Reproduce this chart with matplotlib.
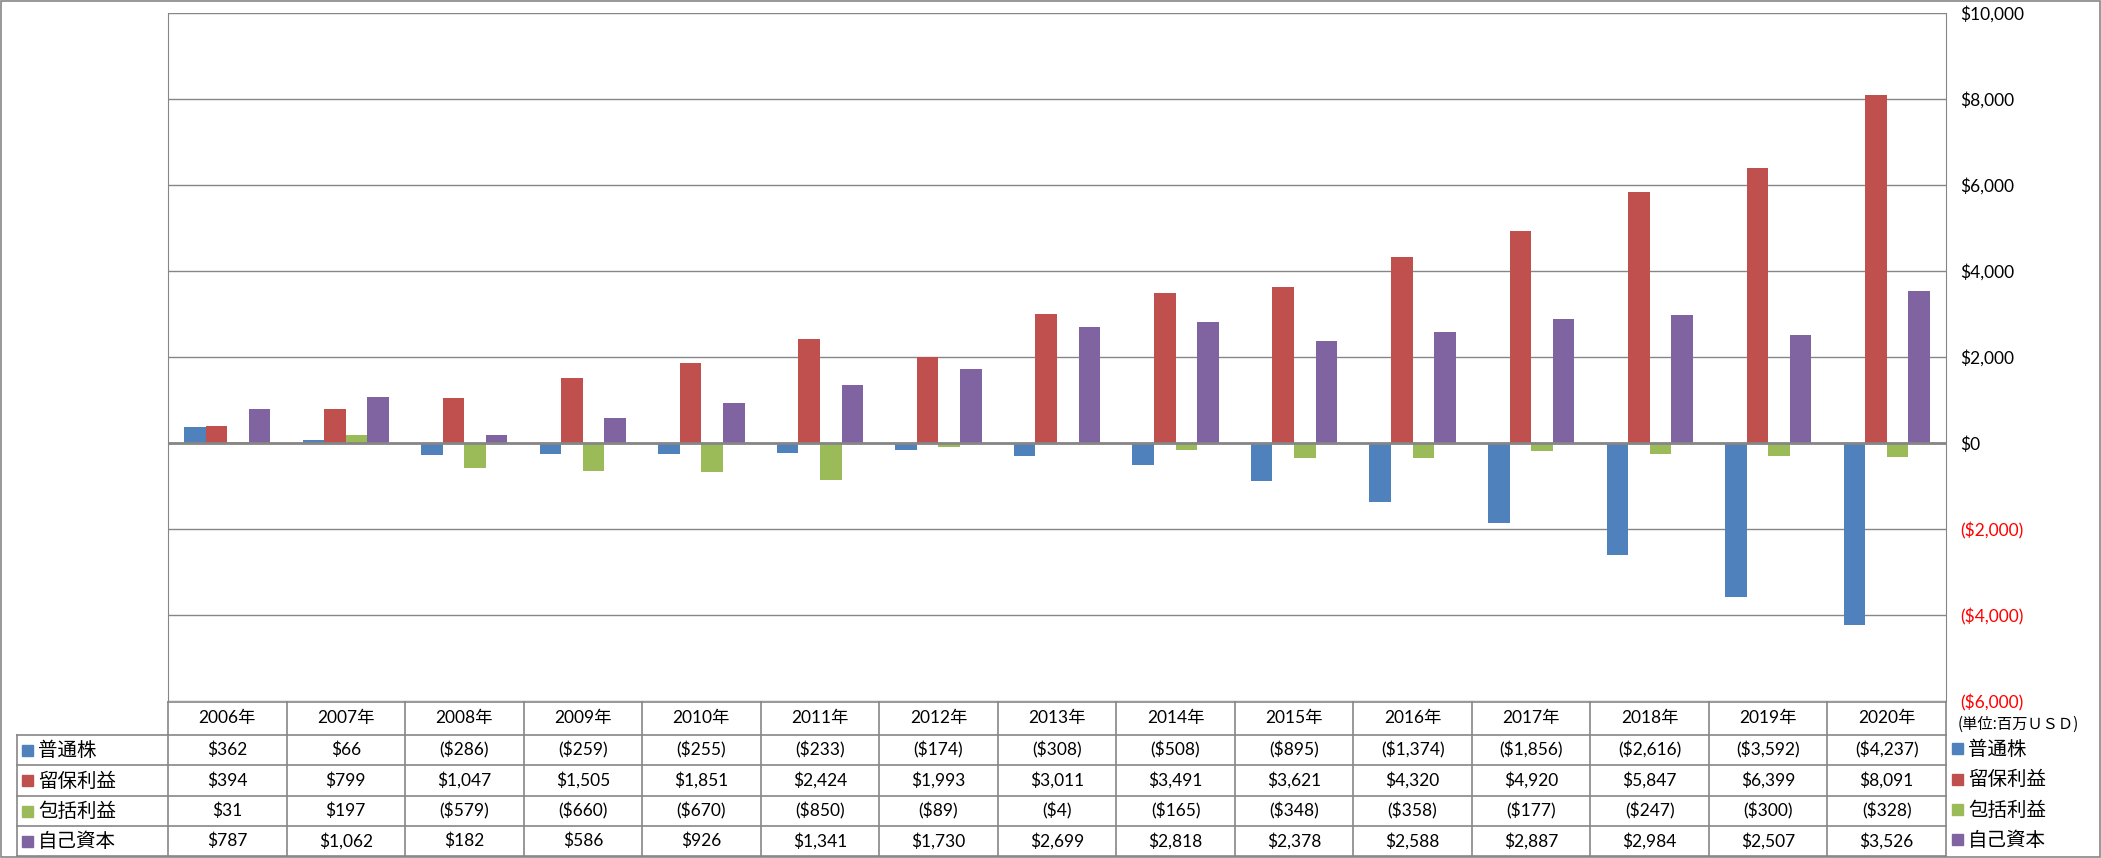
import matplotlib.pyplot as plt
import numpy as np
from matplotlib.patches import Rectangle

plt.rcParams['font.family'] = ['Lato', 'Noto Sans CJK JP', 'DejaVu Sans']

# data (millions USD)
years = ['2006年', '2007年', '2008年', '2009年', '2010年', '2011年', '2012年', '2013年',
         '2014年', '2015年', '2016年', '2017年', '2018年', '2019年', '2020年']
common_stock = [362, 66, -286, -259, -255, -233, -174, -308, -508, -895, -1374, -1856, -2616, -3592, -4237]
retained = [394, 799, 1047, 1505, 1851, 2424, 1993, 3011, 3491, 3621, 4320, 4920, 5847, 6399, 8091]
comprehensive = [31, 197, -579, -660, -670, -850, -89, -4, -165, -348, -358, -177, -247, -300, -328]
equity = [787, 1062, 182, 586, 926, 1341, 1730, 2699, 2818, 2378, 2588, 2887, 2984, 2507, 3526]

series_names = ['普通株', '留保利益', '包括利益', '自己資本']
series_vals = [common_stock, retained, comprehensive, equity]
colors = ['#4F81BD', '#C0504D', '#9BBB59', '#8064A2']

W, H = 2101, 858
fig = plt.figure(figsize=(W / 100, H / 100), dpi=100)

# plot area in pixels
px_l, px_r, px_t, px_b = 168, 1946, 13, 701
ax = fig.add_axes([px_l / W, 1 - px_b / H, (px_r - px_l) / W, (px_b - px_t) / H])

n = len(years)
x = np.arange(n)
bw = 0.182
for i, (vals, c) in enumerate(zip(series_vals, colors)):
    ax.bar(x + (i - 1.5) * bw, vals, width=bw, color=c, zorder=3)

ax.set_xlim(-0.5, n - 0.5)
ax.set_ylim(-6000, 10000)
ax.set_yticks(np.arange(-6000, 10001, 2000))
ax.yaxis.tick_right()
ax.tick_params(axis='y', length=0, pad=10, labelsize=12.5)
ax.set_xticks([])
ax.grid(axis='y', color='#868686', linewidth=1, zorder=0)
ax.axhline(0, color='#868686', linewidth=2, zorder=4)
for s in ['top', 'bottom']:
    ax.spines[s].set_visible(False)
for s in ['left', 'right']:
    ax.spines[s].set_color('#868686')


def money(v):
    s = '${:,}'.format(abs(v))
    return '(' + s + ')' if v < 0 else s


ticklabels = []
for t in ax.get_yticks():
    ticklabels.append(money(int(t)))
ax.set_yticklabels(ticklabels)
for lab, t in zip(ax.get_yticklabels(), ax.get_yticks()):
    if t < 0:
        lab.set_color('#FF0000')

# overlay for data table, legend and border (pixel coordinates)
ov = fig.add_axes([0, 0, 1, 1])
ov.set_xlim(0, W)
ov.set_ylim(H, 0)
ov.axis('off')

lc = '#868686'
ov.add_patch(Rectangle((0.5, 0.5), W - 1.5, H - 1.5, fill=False, edgecolor=lc, linewidth=1.2))

col_w = (px_r - px_l) / n
rows_y = [702, 735, 765, 796, 826, 856]
ov.plot([px_l, px_r], [rows_y[0], rows_y[0]], color=lc, lw=1.2)
for yy in rows_y[1:]:
    ov.plot([17, px_r], [yy, yy], color=lc, lw=1.2)
for j in range(n + 1):
    xx = px_l + j * col_w
    ov.plot([xx, xx], [rows_y[0], rows_y[-1]], color=lc, lw=1.2)
ov.plot([17, 17], [rows_y[1], rows_y[-1]], color=lc, lw=1.2)

for j, yr in enumerate(years):
    ov.text(px_l + (j + 0.5) * col_w, (rows_y[0] + rows_y[1]) / 2, yr,
            ha='center', va='center', fontsize=12.5)

for i, (name, vals, c) in enumerate(zip(series_names, series_vals, colors)):
    yc = (rows_y[i + 1] + rows_y[i + 2]) / 2
    ov.add_patch(Rectangle((22, yc - 5.5), 11, 11, color=c))
    ov.text(38, yc, name, ha='left', va='center', fontsize=14)
    for j, v in enumerate(vals):
        ov.text(px_l + (j + 0.5) * col_w, yc, money(v), ha='center', va='center', fontsize=12.5)
    # right-side legend
    ly = yc - 1.5
    ov.add_patch(Rectangle((1952, ly - 5.5), 11, 11, color=c))
    ov.text(1968, ly, name, ha='left', va='center', fontsize=14)

ov.text(1958, 724, '(単位:百万ＵＳＤ)', ha='left', va='center', fontsize=11,
        family=['Noto Sans CJK JP'])

fig.savefig('out.png', dpi=100)
